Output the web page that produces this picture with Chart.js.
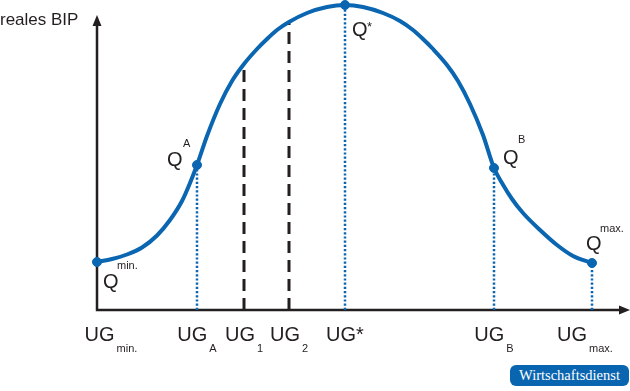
<!DOCTYPE html>
<html><head><meta charset="utf-8">
<script src="https://cdn.jsdelivr.net/npm/chart.js@4"></script>
<style>
html,body{margin:0;padding:0;background:#fff;}
#wrap{position:relative;width:630px;height:391px;}
canvas{display:block}
#badge{position:absolute;left:510px;top:365px;width:119px;height:21px;background:#0a65b0;border-radius:6px;color:#fff;font-family:"Liberation Serif","DejaVu Serif",serif;font-size:14.5px;line-height:21px;text-align:center;}
</style></head><body>
<div id="wrap"><canvas id="c" width="630" height="391"></canvas><div id="badge">Wirtschaftsdienst</div></div>
<script>
// curve (x = unemployment, y = real GDP), arbitrary units
const curveX = [0, 15, 30, 45, 60, 73, 85, 93, 100, 110, 123, 135, 147, 160, 170, 180, 192, 210, 230, 248,
                266, 286, 303, 316, 326, 336, 350, 361, 373, 386, 397, 405, 415, 426, 443, 460, 476, 495];
const curveY = [48, 51, 55.5, 62.5, 74.5, 90, 109, 127, 145, 174, 206, 229, 246, 261, 271, 280, 288, 297, 303, 305,
                303, 297, 289, 280, 271, 261, 245, 229, 206, 175, 142, 127, 111, 97, 80, 65, 54, 47];
// key points on the curve
const keyNames = ['min.', 'A', '*', 'B', 'max.'];
const keyX = [0, 100, 248, 397, 495];
const keyY = [48, 145, 305, 142, 47];
// dashed reference lines UG1, UG2
const dashX = [147, 192];
const dashY = [246, 288];
// x-axis labels
const tickX = [0, 100, 147, 192, 248, 397, 495];
const tickMain = ['UG', 'UG', 'UG', 'UG', 'UG*', 'UG', 'UG'];
const tickSub = ['min.', 'A', '1', '2', '', 'B', 'max.'];
const yTitle = 'reales BIP';

const BLUE = '#0a66b1';
const INK = '#231f20';
const SANS = '"Liberation Sans", Arial, Helvetica, sans-serif';

// label offsets (pixels) relative to the point
const qStyle = [
  {qdx: 6, qdy: 26, sdx: 20, sdy: 7, sf: 11},
  {qdx: -30, qdy: 1, sdx: -14, sdy: -18, sf: 11},
  {qdx: 7, qdy: 31, sdx: 22, sdy: 26, sf: 13},
  {qdx: 9, qdy: -4, sdx: 24, sdy: -25, sf: 11},
  {qdx: -6, qdy: -13, sdx: 8, sdy: -31, sf: 11}
];
const tickShift = [14, 0, 0, 0, 0, 0, -7];

const datasets = [];
datasets.push({
  label: 'curve', order: 0,
  data: curveX.map((x, i) => ({x, y: curveY[i]})),
  borderColor: BLUE, borderWidth: 4, pointRadius: 0,
  cubicInterpolationMode: 'monotone', fill: false, clip: false
});
datasets.push({
  label: 'points', order: 0, type: 'scatter',
  data: keyX.map((x, i) => ({x, y: keyY[i]})),
  backgroundColor: BLUE, borderColor: BLUE, pointRadius: 4.5, showLine: false, clip: false
});
for (let i = 1; i < keyX.length; i++) {
  datasets.push({
    label: 'drop' + i, order: 2,
    data: [{x: keyX[i], y: 0}, {x: keyX[i], y: keyY[i]}],
    borderColor: BLUE, borderWidth: 2.5, borderDash: [2.2, 2], pointRadius: 0, fill: false
  });
}
for (let i = 0; i < dashX.length; i++) {
  datasets.push({
    label: 'dash' + i, order: 2,
    data: [{x: dashX[i], y: 0}, {x: dashX[i], y: dashY[i]}],
    borderColor: INK, borderWidth: 3, borderDash: [12, 7], pointRadius: 0, fill: false
  });
}

const decor = {
  id: 'decor',
  beforeDatasetsDraw(chart) {
    const {ctx, scales: {x, y}} = chart;
    const x0 = x.getPixelForValue(0), y0 = y.getPixelForValue(0);
    const xEnd = x.getPixelForValue(x.max), yTop = y.getPixelForValue(295);
    ctx.save();
    ctx.strokeStyle = INK; ctx.fillStyle = INK; ctx.lineWidth = 2.5;
    ctx.beginPath();
    ctx.moveTo(x0, y0); ctx.lineTo(x0, yTop + 8);
    ctx.moveTo(x0 - 1.2, y0); ctx.lineTo(xEnd - 8, y0);
    ctx.stroke();
    ctx.beginPath();
    ctx.moveTo(x0, yTop); ctx.lineTo(x0 - 4.5, yTop + 11); ctx.lineTo(x0 + 4.5, yTop + 11); ctx.closePath(); ctx.fill();
    ctx.beginPath();
    ctx.moveTo(xEnd, y0); ctx.lineTo(xEnd - 11, y0 - 4.5); ctx.lineTo(xEnd - 11, y0 + 4.5); ctx.closePath(); ctx.fill();
    ctx.restore();
  },
  afterDatasetsDraw(chart) {
    const {ctx, scales: {x, y}} = chart;
    ctx.save();
    ctx.fillStyle = INK;
    ctx.textBaseline = 'alphabetic';
    ctx.font = '17px ' + SANS;
    ctx.textAlign = 'left';
    ctx.fillText(yTitle, 0, 25);
    keyX.forEach((kx, i) => {
      const px = x.getPixelForValue(kx), py = y.getPixelForValue(keyY[i]);
      const s = qStyle[i];
      ctx.font = '20px ' + SANS;
      ctx.fillText('Q', px + s.qdx, py + s.qdy);
      ctx.font = s.sf + 'px ' + SANS;
      ctx.fillText(keyNames[i], px + s.sdx, py + s.sdy);
    });
    const base = y.getPixelForValue(0) + 31;
    tickX.forEach((tx, i) => {
      const px = x.getPixelForValue(tx);
      ctx.font = '20px ' + SANS;
      const w1 = ctx.measureText(tickMain[i]).width;
      ctx.font = '11px ' + SANS;
      const w2 = tickSub[i] ? ctx.measureText(tickSub[i]).width + 2 : 0;
      const left = px - (w1 + w2) / 2 + tickShift[i];
      ctx.font = '20px ' + SANS;
      ctx.fillText(tickMain[i], left, base);
      if (tickSub[i]) {
        ctx.font = '11px ' + SANS;
        ctx.fillText(tickSub[i], left + w1 + 2, base + 11);
      }
    });
    ctx.restore();
  }
};

new Chart(document.getElementById('c'), {
  type: 'line',
  data: {datasets},
  options: {
    responsive: false, animation: false, devicePixelRatio: 1,
    layout: {autoPadding: false, padding: {left: 97, right: 0, top: 0, bottom: 81}},
    plugins: {legend: {display: false}, tooltip: {enabled: false}},
    scales: {
      x: {type: 'linear', min: 0, max: 533, display: false},
      y: {type: 'linear', min: 0, max: 310, display: false}
    }
  },
  plugins: [decor]
});
</script>
</body></html>
